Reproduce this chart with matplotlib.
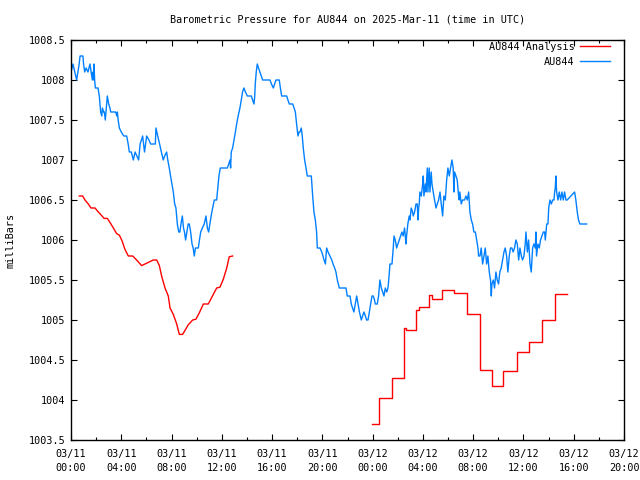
import matplotlib
matplotlib.use("Agg")
import matplotlib.pyplot as plt
from matplotlib.ticker import MultipleLocator

# ---- data (hours since 2025-03-11 00:00 UTC) ----
obs_hours = [0.00, 0.16, 0.30, 0.45, 0.55, 0.65, 0.72, 0.95, 1.00, 1.09, 1.20, 1.35, 1.51, 1.60, 1.70, 1.75,
             1.80, 1.83, 1.88, 1.94, 2.15, 2.25, 2.36, 2.45, 2.50, 2.60, 2.65, 2.73, 2.89, 3.00, 3.10, 3.16,
             3.55, 3.65, 3.69, 3.75, 3.85, 4.00, 4.20, 4.43, 4.55, 4.64, 4.80, 4.96, 5.10, 5.38, 5.50, 5.70,
             5.85, 6.02, 6.20, 6.34, 6.71, 6.76, 6.90, 7.05, 7.19, 7.34, 7.45, 7.61, 7.70, 7.82, 7.92, 8.03,
             8.14, 8.25, 8.35, 8.46, 8.57, 8.66, 8.75, 8.86, 8.95, 9.03, 9.12, 9.22, 9.32, 9.41, 9.52, 9.63,
             9.72, 9.81, 9.90, 10.13, 10.22, 10.32, 10.45, 10.60, 10.74, 10.85, 10.95, 11.05, 11.15, 11.27,
             11.40, 11.59, 11.68, 11.77, 11.88, 12.44, 12.55, 12.65, 12.70, 12.75, 12.86, 12.97, 13.08, 13.18,
             13.30, 13.44, 13.55, 13.65, 13.76, 13.88, 14.03, 14.35, 14.45, 14.56, 14.62, 14.66, 14.74, 14.82,
             14.92, 15.03, 15.14, 15.25, 15.83, 15.95, 16.10, 16.20, 16.31, 16.57, 16.66, 16.76, 17.16, 17.26,
             17.37, 17.64, 17.75, 17.85, 17.95, 18.06, 18.15, 18.22, 18.32, 18.40, 18.48, 18.59, 18.70, 18.80,
             19.12, 19.23, 19.33, 19.44, 19.54, 19.60, 19.81, 19.95, 20.05, 20.13, 20.24, 20.34, 20.45, 20.60,
             20.75, 20.85, 20.98, 21.08, 21.19, 21.35, 21.88, 21.98, 22.20, 22.30, 22.40, 22.51, 22.62, 22.73,
             22.84, 22.95, 23.10, 23.20, 23.31, 23.42, 23.52, 23.63, 23.74, 23.84, 23.95, 24.05, 24.15, 24.21,
             24.37, 24.47, 24.58, 24.69, 24.80, 24.90, 25.01, 25.12, 25.22, 25.28, 25.33, 25.38, 25.54, 25.64,
             25.70, 25.80, 25.91, 26.01, 26.12, 26.22, 26.33, 26.43, 26.54, 26.60, 26.65, 26.70, 26.80, 26.91,
             26.97, 27.07, 27.18, 27.23, 27.34, 27.45, 27.55, 27.61, 27.66, 27.71, 27.76, 27.87, 27.98, 28.03,
             28.08, 28.19, 28.24, 28.35, 28.40, 28.50, 28.56, 28.66, 28.72, 28.82, 28.93, 29.04, 29.14, 29.25,
             29.36, 29.46, 29.57, 29.67, 29.78, 29.89, 29.99, 30.10, 30.20, 30.31, 30.41, 30.47, 30.52, 30.63,
             30.73, 30.84, 30.89, 30.94, 31.05, 31.15, 31.31, 31.42, 31.53, 31.64, 31.74, 31.85, 31.95, 32.06,
             32.17, 32.28, 32.38, 32.43, 32.54, 32.64, 32.75, 32.86, 32.96, 33.07, 33.17, 33.28, 33.38, 33.44,
             33.49, 33.60, 33.70, 33.81, 33.91, 34.02, 34.12, 34.23, 34.34, 34.45, 34.55, 34.66, 34.76, 34.87,
             34.97, 35.08, 35.18, 35.29, 35.40, 35.51, 35.62, 35.72, 35.83, 35.93, 36.04, 36.14, 36.20, 36.31,
             36.41, 36.52, 36.62, 36.73, 36.83, 36.94, 36.99, 37.04, 37.15, 37.26, 37.36, 37.47, 37.58, 37.68,
             37.74, 37.85, 37.95, 38.01, 38.11, 38.22, 38.32, 38.43, 38.48, 38.53, 38.58, 38.64, 38.75, 38.85,
             38.96, 39.06, 39.17, 39.27, 39.38, 39.48, 40.07, 40.17, 40.28, 40.38, 40.49, 41.03]
obs_mbar = [1008.1, 1008.2, 1008.1, 1008.0, 1008.1, 1008.2, 1008.3, 1008.3, 1008.2, 1008.1, 1008.15, 1008.1, 1008.2, 1008.1, 1008.0, 1008.1,
            1008.0, 1008.2, 1008.0, 1007.9, 1007.9, 1007.8, 1007.6, 1007.55, 1007.65, 1007.6, 1007.6, 1007.5, 1007.8, 1007.7, 1007.65, 1007.6,
            1007.6, 1007.55, 1007.6, 1007.5, 1007.4, 1007.35, 1007.3, 1007.3, 1007.2, 1007.1, 1007.1, 1007.0, 1007.1, 1007.0, 1007.2, 1007.3,
            1007.1, 1007.3, 1007.25, 1007.2, 1007.2, 1007.4, 1007.3, 1007.2, 1007.1, 1007.0, 1007.05, 1007.1, 1007.0, 1006.9, 1006.8, 1006.7,
            1006.6, 1006.45, 1006.4, 1006.2, 1006.1, 1006.1, 1006.2, 1006.3, 1006.15, 1006.1, 1006.0, 1006.1, 1006.2, 1006.2, 1006.1, 1005.95,
            1005.9, 1005.8, 1005.9, 1005.9, 1006.0, 1006.1, 1006.15, 1006.2, 1006.3, 1006.15, 1006.1, 1006.2, 1006.3, 1006.4,
            1006.5, 1006.5, 1006.65, 1006.8, 1006.9, 1006.9, 1006.95, 1007.0, 1006.9, 1007.1, 1007.15, 1007.25, 1007.35, 1007.45,
            1007.55, 1007.65, 1007.75, 1007.85, 1007.9, 1007.85, 1007.8, 1007.8, 1007.75, 1007.7, 1007.8, 1007.95, 1008.1, 1008.2,
            1008.15, 1008.1, 1008.05, 1008.0, 1008.0, 1007.95, 1007.9, 1007.95, 1008.0, 1008.0, 1007.9, 1007.8, 1007.8, 1007.75,
            1007.7, 1007.7, 1007.65, 1007.6, 1007.45, 1007.3, 1007.35, 1007.35, 1007.4, 1007.3, 1007.15, 1007.0, 1006.9, 1006.8,
            1006.8, 1006.55, 1006.35, 1006.25, 1006.1, 1005.9, 1005.9, 1005.85, 1005.8, 1005.75, 1005.7, 1005.9, 1005.85, 1005.8,
            1005.75, 1005.7, 1005.65, 1005.6, 1005.5, 1005.4, 1005.4, 1005.3, 1005.3, 1005.2, 1005.15, 1005.1, 1005.2, 1005.3,
            1005.2, 1005.1, 1005.0, 1005.05, 1005.1, 1005.05, 1005.0, 1005.0, 1005.1, 1005.2, 1005.3, 1005.3, 1005.25, 1005.2,
            1005.2, 1005.3, 1005.5, 1005.4, 1005.35, 1005.3, 1005.4, 1005.35, 1005.4, 1005.5, 1005.6, 1005.7, 1005.7, 1005.9,
            1006.05, 1006.0, 1005.9, 1005.95, 1006.0, 1006.05, 1006.1, 1006.05, 1006.15, 1006.05, 1005.95, 1006.05, 1006.2, 1006.3,
            1006.25, 1006.4, 1006.35, 1006.3, 1006.35, 1006.45, 1006.45, 1006.25, 1006.4, 1006.45, 1006.6, 1006.55, 1006.7, 1006.8,
            1006.55, 1006.7, 1006.6, 1006.9, 1006.6, 1006.9, 1006.6, 1006.85, 1006.7, 1006.6, 1006.5, 1006.4, 1006.45, 1006.5,
            1006.6, 1006.45, 1006.3, 1006.55, 1006.5, 1006.75, 1006.9, 1006.8, 1006.9, 1007.0, 1006.9, 1006.6, 1006.85, 1006.8,
            1006.75, 1006.55, 1006.5, 1006.6, 1006.45, 1006.5, 1006.5, 1006.55, 1006.5, 1006.6, 1006.35, 1006.25, 1006.2, 1006.1,
            1006.1, 1006.0, 1005.9, 1005.8, 1005.8, 1005.9, 1005.7, 1005.8, 1005.9, 1005.7, 1005.8, 1005.6, 1005.5, 1005.3,
            1005.45, 1005.5, 1005.4, 1005.6, 1005.5, 1005.45, 1005.6, 1005.65, 1005.75, 1005.85, 1005.9, 1005.8, 1005.6, 1005.8,
            1005.9, 1005.9, 1005.85, 1005.9, 1006.0, 1005.95, 1005.75, 1005.9, 1005.8, 1005.75, 1005.8, 1005.95, 1006.1, 1005.85,
            1006.0, 1005.7, 1005.6, 1005.9, 1005.95, 1005.9, 1006.1, 1005.8, 1005.95, 1005.9, 1006.0, 1006.05, 1006.1, 1006.1,
            1006.0, 1006.2, 1006.2, 1006.4, 1006.5, 1006.45, 1006.5, 1006.5, 1006.6, 1006.65, 1006.8, 1006.6, 1006.5, 1006.6,
            1006.5, 1006.6, 1006.5, 1006.6, 1006.5, 1006.5, 1006.6, 1006.5, 1006.35, 1006.25, 1006.2, 1006.2]

ana1_hours = [0.66, 0.93, 1.11, 1.38, 1.59, 1.91, 2.17, 2.36, 2.63, 2.89, 3.10, 3.37, 3.63, 3.85, 4.06, 4.30,
              4.56, 4.91, 5.22, 5.62, 5.89, 6.28, 6.55, 6.82, 7.03, 7.21, 7.48, 7.74, 7.88, 8.14, 8.41, 8.62,
              8.88, 9.07, 9.33, 9.68, 9.94, 10.21, 10.53, 10.92, 11.19, 11.59, 11.85, 12.12, 12.39, 12.59, 12.86]
ana1_mbar = [1006.55, 1006.55, 1006.50, 1006.45, 1006.40, 1006.40, 1006.35, 1006.32, 1006.27, 1006.27, 1006.22, 1006.15,
             1006.08, 1006.06, 1005.99, 1005.88, 1005.80, 1005.80, 1005.75, 1005.68, 1005.70, 1005.73, 1005.75, 1005.75,
             1005.68, 1005.55, 1005.40, 1005.30, 1005.15, 1005.07, 1004.95, 1004.82, 1004.82, 1004.87, 1004.94, 1005.00,
             1005.01, 1005.09, 1005.20, 1005.20, 1005.28, 1005.40, 1005.41, 1005.51, 1005.65, 1005.79, 1005.80]

ana2_hours = [23.92, 24.50, 25.54, 26.52, 26.68, 27.45, 27.66, 28.45, 28.72, 29.51, 30.47, 31.48, 32.54, 33.49,
              34.39, 35.45, 36.44, 37.47, 38.50, 39.43]
ana2_mbar = [1003.70, 1004.03, 1004.28, 1004.90, 1004.87, 1005.13, 1005.16, 1005.31, 1005.26, 1005.37, 1005.34,
             1005.07, 1004.37, 1004.17, 1004.36, 1004.60, 1004.73, 1005.00, 1005.33, 1005.33]

x_ticks = [0, 4, 8, 12, 16, 20, 24, 28, 32, 36, 40, 44]
x_tick_labels = ["03/11\n00:00", "03/11\n04:00", "03/11\n08:00", "03/11\n12:00", "03/11\n16:00", "03/11\n20:00",
                 "03/12\n00:00", "03/12\n04:00", "03/12\n08:00", "03/12\n12:00", "03/12\n16:00", "03/12\n20:00"]
y_ticks = [1003.5, 1004, 1004.5, 1005, 1005.5, 1006, 1006.5, 1007, 1007.5, 1008, 1008.5]
y_tick_labels = ["1003.5", "1004", "1004.5", "1005", "1005.5", "1006", "1006.5", "1007", "1007.5", "1008", "1008.5"]

RED = "#ff0000"
BLUE = "#0080ff"
FONT = "DejaVu Sans Mono"
FS = 7.3

plt.rcParams["font.family"] = [FONT]
fig = plt.figure(figsize=(6.4, 4.8), dpi=100)
ax = fig.add_axes([71 / 640, 1 - 440 / 480, (624 - 71) / 640, 400 / 480])

ax.plot(ana1_hours, ana1_mbar, color=RED, lw=1.0, label="AU844 Analysis")
ax.plot(ana2_hours, ana2_mbar, color=RED, lw=1.0, drawstyle="steps-post")
ax.plot(obs_hours, obs_mbar, color=BLUE, lw=1.0, label="AU844")

ax.set_xlim(0, 44)
ax.set_ylim(1003.5, 1008.5)
ax.set_xticks(x_ticks)
ax.set_xticklabels(x_tick_labels, fontsize=FS, linespacing=1.45)
ax.xaxis.set_minor_locator(MultipleLocator(2))
ax.set_yticks(y_ticks)
ax.set_yticklabels(y_tick_labels, fontsize=FS)
ax.tick_params(axis="both", which="major", direction="in", length=4.5, width=0.8,
               top=True, right=True)
ax.tick_params(axis="x", which="major", pad=6.5)
ax.tick_params(axis="y", which="major", pad=4)
ax.tick_params(axis="x", which="minor", direction="in", length=2.5, width=0.8, top=True, bottom=True)
for s in ax.spines.values():
    s.set_linewidth(1.0)

leg = ax.legend(loc="upper right", bbox_to_anchor=(0.9747, 0.995), frameon=False, markerfirst=False,
                fontsize=FS, handlelength=3.0, handletextpad=0.5, labelspacing=0.45, borderaxespad=0,
                borderpad=0)

fig.text(347.5 / 640, 1 - 19 / 480, "Barometric Pressure for AU844 on 2025-Mar-11 (time in UTC)",
         ha="center", va="center", fontsize=FS)
fig.text(11 / 640, 0.5, "milliBars", rotation=90, ha="center", va="center", fontsize=FS)

fig.savefig("out.png", dpi=100)
